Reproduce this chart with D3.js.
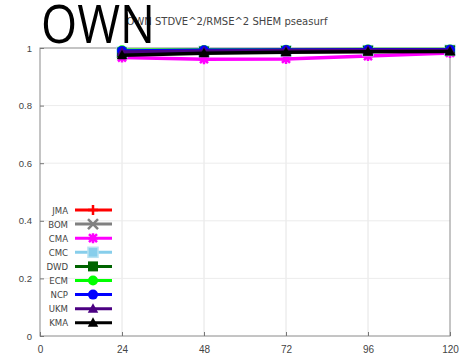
<!DOCTYPE html>
<html>
<head>
<meta charset="utf-8">
<script src="https://cdn.jsdelivr.net/npm/d3@7"></script>
<style>
  body { margin: 0; background: #fff; }
  svg { display: block; }
</style>
</head>
<body>
<div id="chart"></div>
<script>
const leads = [24, 48, 72, 96, 120]
const xTicks = [0, 24, 48, 72, 96, 120]
const yTicks = [0, 0.2, 0.4, 0.6, 0.8, 1]

const models = ["JMA", "BOM", "CMA", "CMC", "DWD", "ECM", "NCP", "UKM", "KMA"]
const colors = ["#ff0000", "#808080", "#ff00ff", "#87ceeb", "#006400", "#00ff00", "#0000ff", "#4b0082", "#000000"]
const symbols = ["plus", "cross", "star", "squareOpen", "square", "circle", "circle", "triangle", "triangle"]

const JMA = [0.986, 0.990, 0.991, 0.992, 0.993]
const BOM = [0.982, 0.986, 0.988, 0.990, 0.991]
const CMA = [0.967, 0.961, 0.962, 0.972, 0.983]
const CMC = [0.985, 0.988, 0.990, 0.991, 0.992]
const DWD = [0.984, 0.988, 0.990, 0.991, 0.992]
const ECM = [0.992, 0.993, 0.994, 0.995, 0.995]
const NCP = [0.990, 0.992, 0.993, 0.994, 0.994]
const UKM = [0.986, 0.989, 0.991, 0.992, 0.992]
const KMA = [0.975, 0.982, 0.985, 0.987, 0.988]
const series = [JMA, BOM, CMA, CMC, DWD, ECM, NCP, UKM, KMA]

const W = 463, H = 355
const plotLeft = 40, plotRight = 450, plotTop = 48, plotBottom = 336

const svg = d3.select("#chart").append("svg")
  .attr("width", W).attr("height", H)
  .style("font-family", "'DejaVu Sans', sans-serif")

const x = d3.scaleLinear().domain([0, 120]).range([plotLeft, plotRight])
const y = d3.scaleLinear().domain([0, 1]).range([plotBottom, plotTop])

// grid
svg.append("g").selectAll("line").data(xTicks.slice(1, -1)).enter().append("line")
  .attr("x1", d => x(d)).attr("x2", d => x(d))
  .attr("y1", plotTop).attr("y2", plotBottom)
  .style("stroke", "#e4e4e4").style("stroke-width", 1)
svg.append("g").selectAll("line").data(yTicks.slice(1, -1)).enter().append("line")
  .attr("x1", plotLeft).attr("x2", plotRight)
  .attr("y1", d => y(d)).attr("y2", d => y(d))
  .style("stroke", "#ececec").style("stroke-width", 1)

// frame
svg.append("rect")
  .attr("x", plotLeft).attr("y", plotTop)
  .attr("width", plotRight - plotLeft).attr("height", plotBottom - plotTop)
  .style("fill", "none").style("stroke", "#8a8a8a").style("stroke-width", 1)

// ticks
const yAxis = d3.axisLeft(y).tickValues(yTicks).tickSize(-4).tickPadding(8)
  .tickFormat(d => d === 0 || d === 1 ? d3.format("d")(d) : d3.format(".1f")(d))
const gy = svg.append("g").attr("transform", `translate(${plotLeft},0)`).call(yAxis)
gy.select(".domain").remove()
gy.selectAll("line").style("stroke", "#777")
gy.selectAll("text").style("font-size", "9.5px").style("fill", "#444")

const xAxis = d3.axisBottom(x).tickValues(xTicks).tickSize(-4).tickPadding(10)
const gx = svg.append("g").attr("transform", `translate(0,${plotBottom})`).call(xAxis)
gx.select(".domain").remove()
gx.selectAll("line").style("stroke", "#777")
gx.selectAll("text").style("font-size", "10px").style("fill", "#444")

// markers
function marker(g, type, color, s) {
  if (type === "plus") {
    g.append("path").attr("d", `M${-s},0H${s}M0,${-s}V${s}`)
      .style("stroke", color).style("stroke-width", 2.5).style("fill", "none")
  } else if (type === "cross") {
    g.append("path").attr("d", `M${-s},${-s}L${s},${s}M${-s},${s}L${s},${-s}`)
      .style("stroke", color).style("stroke-width", 2.5).style("fill", "none")
  } else if (type === "star") {
    g.append("path").attr("d", `M${-s},0H${s}M0,${-s}V${s}M${-s*0.8},${-s*0.8}L${s*0.8},${s*0.8}M${-s*0.8},${s*0.8}L${s*0.8},${-s*0.8}`)
      .style("stroke", color).style("stroke-width", 2.5).style("fill", "none")
  } else if (type === "squareOpen") {
    g.append("rect").attr("x", -s).attr("y", -s).attr("width", 2 * s).attr("height", 2 * s)
      .style("fill", color).style("stroke", "#b8e2f2").style("stroke-width", 1.5)
  } else if (type === "square") {
    g.append("rect").attr("x", -s).attr("y", -s).attr("width", 2 * s).attr("height", 2 * s)
      .style("fill", color)
  } else if (type === "circle") {
    g.append("circle").attr("r", s).style("fill", color)
  } else if (type === "triangle") {
    g.append("path").attr("d", `M0,${-s * 1.1}L${s * 1.05},${s * 0.8}L${-s * 1.05},${s * 0.8}Z`)
      .style("fill", color)
  }
}

// series lines and points
const line = d3.line().x((d, i) => x(leads[i])).y(d => y(d))
series.forEach((vals, k) => {
  svg.append("path").datum(vals).attr("d", line)
    .style("fill", "none").style("stroke", colors[k]).style("stroke-width", 3.5)
  vals.forEach((v, i) => {
    const g = svg.append("g").attr("transform", `translate(${x(leads[i])},${y(v)})`)
    marker(g, symbols[k], colors[k], 5)
  })
})

// legend
const lg = svg.append("g")
models.forEach((m, k) => {
  const ly = 210 + k * 14.1
  lg.append("text").attr("x", 68).attr("y", ly + 3.5)
    .attr("text-anchor", "end")
    .style("font-family", "'DejaVu Sans Condensed', 'DejaVu Sans', sans-serif")
    .style("font-size", "9.5px").style("fill", "#444").text(m)
  lg.append("line").attr("x1", 75).attr("x2", 112).attr("y1", ly).attr("y2", ly)
    .style("stroke", colors[k]).style("stroke-width", 3)
  const g = lg.append("g").attr("transform", `translate(93,${ly})`)
  marker(g, symbols[k], colors[k], 5)
})

// titles
svg.append("text").attr("x", 227).attr("y", 25).attr("text-anchor", "middle")
  .style("font-size", "10px").style("fill", "#444")
  .text("OWN STDVE^2/RMSE^2 SHEM pseasurf")

svg.append("text").attr("x", 41).attr("y", 43)
  .attr("textLength", 114).attr("lengthAdjust", "spacingAndGlyphs")
  .style("font-family", "'Open Sans', sans-serif")
  .style("font-size", "53px").style("fill", "#000").text("OWN")
</script>
</body>
</html>
